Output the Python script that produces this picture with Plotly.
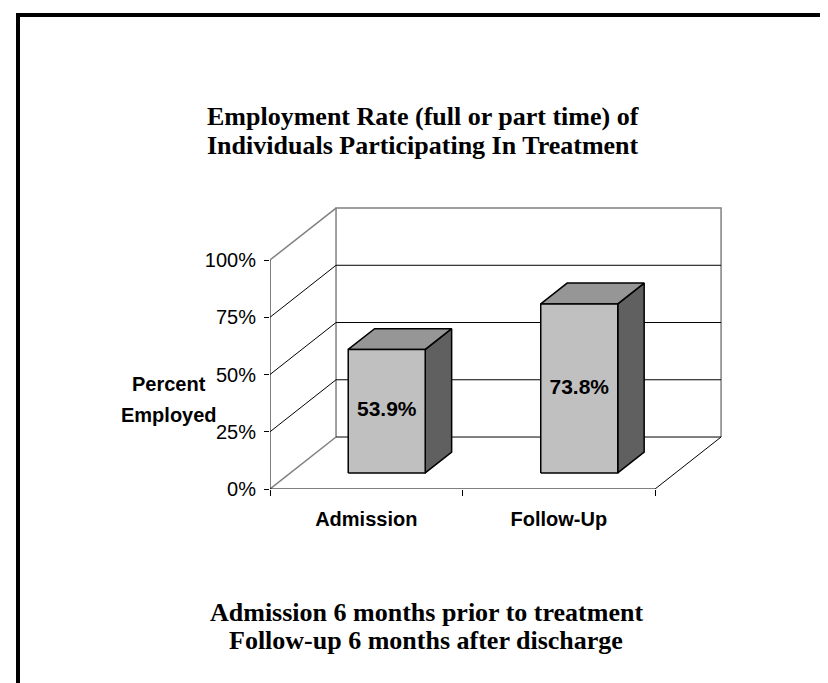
import plotly.graph_objects as go

# ---------------- data ----------------
categories = ["Admission", "Follow-Up"]
values = [53.9, 73.8]
value_labels = ["53.9%", "73.8%"]
y_ticks = [0, 25, 50, 75, 100]
y_tick_labels = ["0%", "25%", "50%", "75%", "100%"]
title_lines = ["Employment Rate (full or part time) of",
               "Individuals Participating In Treatment"]
note_lines = ["Admission 6 months prior to treatment",
              "Follow-up 6 months after discharge"]
y_title_lines = ["Percent", "Employed"]

# ---------------- 3-D look (style) ----------------
DX = 0.343      # depth offset, in category units
DY = 22.7       # depth offset, in percent units
BAR_W = 0.40    # bar width, category units
F0, F1 = 0.31, 0.71   # front / back depth fraction of bars
N = len(categories)
YMAX = max(y_ticks)

W, H = 828, 683
ML, MR, MT, MB = 262, 108, 195, 202
X_RANGE = [0, 2.379]
Y_RANGE = [0, 124.9]

SANS = "Liberation Sans, Arial, sans-serif"
SERIF = "Liberation Serif, Times New Roman, serif"
GRAY = "#808080"

fig = go.Figure()


def line_trace(xs, ys, color, width=1.0, xaxis="x"):
    fig.add_trace(go.Scatter(x=xs, y=ys, mode="lines", xaxis=xaxis,
                             line=dict(color=color, width=width),
                             hoverinfo="skip", showlegend=False,
                             cliponaxis=False))


# back wall border (gray)
line_trace([DX, DX, N + DX, N + DX], [DY, YMAX + DY, YMAX + DY, DY], GRAY, 1.5)
# back wall gridlines (black)
gx, gy = [], []
for v in y_ticks[:-1]:
    gx += [DX, N + DX, None]
    gy += [v + DY, v + DY, None]
line_trace(gx, gy, "black", 1.0)
# left wall diagonals
bx, by, kx, ky = [], [], [], []
for v in y_ticks:
    if v in (y_ticks[0], y_ticks[-1]):
        bx += [0, DX, None]; by += [v, v + DY, None]
    else:
        kx += [0, DX, None]; ky += [v, v + DY, None]
line_trace(bx, by, GRAY, 1.5)
line_trace(kx, ky, "black", 1.0)
# floor right edge
line_trace([N, N + DX], [0, DY], "black", 1.0)
# value axis line
line_trace([0, 0], [0, YMAX], "black", 1.0)
# category axis line (on the tick axis)
line_trace([0, N], [0, 0], "black", 1.0, xaxis="x2")

# bars
FRONT, TOP, SIDE = "#C0C0C0", "#969696", "#606060"
d = F1 - F0
for i, v in enumerate(values):
    c = i + 0.5
    xl = c - BAR_W / 2 + F0 * DX
    xr = c + BAR_W / 2 + F0 * DX
    y0 = F0 * DY
    y1 = v + F0 * DY
    polys = [
        ([xr, xr + d * DX, xr + d * DX, xr, xr],
         [y0, y0 + d * DY, y1 + d * DY, y1, y0], SIDE),
        ([xl, xr, xr + d * DX, xl + d * DX, xl],
         [y1, y1, y1 + d * DY, y1 + d * DY, y1], TOP),
        ([xl, xr, xr, xl, xl], [y0, y0, y1, y1, y0], FRONT),
    ]
    for px, py, col in polys:
        fig.add_trace(go.Scatter(x=px, y=py, mode="lines", fill="toself",
                                 fillcolor=col,
                                 line=dict(color="black", width=1.5),
                                 hoverinfo="skip", showlegend=False,
                                 cliponaxis=False))
    fig.add_trace(go.Scatter(x=[c + F0 * DX], y=[v / 2 + F0 * DY],
                             mode="text", text=[value_labels[i]],
                             textfont=dict(family=SANS, size=21,
                                           color="black", weight="bold"),
                             hoverinfo="skip", showlegend=False))

# ---------------- layout ----------------
PW = W - ML - MR
PH = H - MT - MB


def pxx(p):
    return (p - ML) / PW


def pxy(p):
    return (H - MB - p) / PH


annotations = []
for txt, yc in zip(title_lines, [108, 138]):
    annotations.append(dict(text=txt, xref="paper", yref="paper",
                            x=pxx(415), y=pxy(yc), showarrow=False,
                            xanchor="center", yanchor="middle",
                            font=dict(family=SERIF, size=26, color="black",
                                      weight="bold")))
for txt, yc in zip(note_lines, [604, 632]):
    annotations.append(dict(text=txt, xref="paper", yref="paper",
                            x=pxx(418), y=pxy(yc), showarrow=False,
                            xanchor="center", yanchor="middle",
                            font=dict(family=SERIF, size=26, color="black",
                                      weight="bold")))
for txt, yc in zip(y_title_lines, [376, 407]):
    annotations.append(dict(text=txt, xref="paper", yref="paper",
                            x=pxx(161), y=pxy(yc), showarrow=False,
                            xanchor="center", yanchor="middle",
                            font=dict(family=SANS, size=20, color="black",
                                      weight="bold")))

frame = dict(type="path", xref="paper", yref="paper",
             path=f"M {pxx(10)},{pxy(690)} L {pxx(10)},{pxy(7)} L {pxx(835)},{pxy(7)}",
             line=dict(color="black", width=4))

fig.update_layout(
    width=W, height=H,
    margin=dict(l=ML, r=MR, t=MT, b=MB, pad=0),
    paper_bgcolor="white", plot_bgcolor="rgba(0,0,0,0)",
    showlegend=False,
    annotations=annotations,
    shapes=[frame],
    xaxis=dict(range=X_RANGE, tickvals=[i + 0.5 for i in range(N)],
               ticktext=categories, ticks="outside", ticklen=12,
               tickcolor="rgba(0,0,0,0)", showline=False, showgrid=False,
               zeroline=False, fixedrange=True,
               tickfont=dict(family=SANS, size=20, color="black",
                             weight="bold")),
    xaxis2=dict(range=X_RANGE, overlaying="x", anchor="y", side="bottom",
                tickvals=list(range(N + 1)), ticks="outside", ticklen=6,
                tickcolor="black", tickwidth=1, showticklabels=False,
                showline=False, showgrid=False, zeroline=False),
    yaxis=dict(range=Y_RANGE, tickvals=y_ticks, ticktext=y_tick_labels,
               ticks="outside", ticklen=5, tickcolor="black", tickwidth=1,
               ticklabelstandoff=4,
               showline=False, showgrid=False, zeroline=False,
               tickfont=dict(family=SANS, size=20, color="black")),
)

fig.write_html("out.html")
